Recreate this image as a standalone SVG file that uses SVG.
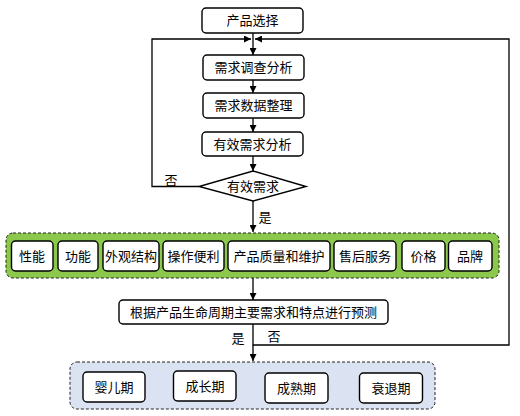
<svg xmlns="http://www.w3.org/2000/svg" width="520" height="416" viewBox="0 0 520 416">
<defs>
<style>
.box{fill:#fff;stroke:#000;stroke-width:1.4}
.grp1{fill:#8cc84b;stroke:#222;stroke-width:1;stroke-dasharray:3,2}
.grp2{fill:#dbe3f2;stroke:#222;stroke-width:1;stroke-dasharray:3,2}
.ln{fill:none;stroke:#000;stroke-width:1.3}
text{font-family:"Liberation Sans","Noto Sans CJK SC",sans-serif;font-size:13px;fill:#000;text-anchor:middle;dominant-baseline:central}
</style>
<marker id="ah" viewBox="0 0 10 10" refX="10" refY="5" markerWidth="7" markerHeight="7" markerUnits="userSpaceOnUse" orient="auto">
<path d="M0,0 L10,5 L0,10 z" fill="#000"/>
</marker>
</defs>
<rect width="520" height="416" fill="#fff"/>

<g id="connectors">
<path class="ln" d="M253,33 V55" marker-end="url(#ah)"/>
<path class="ln" d="M199,186.5 H152 V39 H251" marker-end="url(#ah)"/>
<path class="ln" d="M253,324 V345 H509 V39 H255" marker-end="url(#ah)"/>
<path class="ln" d="M253,80 V93" marker-end="url(#ah)"/>
<path class="ln" d="M253,118 V132" marker-end="url(#ah)"/>
<path class="ln" d="M253,156 V171" marker-end="url(#ah)"/>
<path class="ln" d="M253,201 V232" marker-end="url(#ah)"/>
<path class="ln" d="M253,278 V300" marker-end="url(#ah)"/>
<path class="ln" d="M253,345 V361" marker-end="url(#ah)"/>
<text x="171" y="180">否</text>
<text x="265" y="217">是</text>
<text x="238" y="338">是</text>
<text x="274" y="336">否</text>
</g>

<g id="n_select"><rect class="box" x="202" y="8" width="101" height="25" rx="4"/><text x="252.5" y="20.5">产品选择</text></g>
<g id="n_survey"><rect class="box" x="203" y="55" width="101" height="25" rx="4"/><text x="253.5" y="67.5">需求调查分析</text></g>
<g id="n_data"><rect class="box" x="203" y="93" width="101" height="25" rx="4"/><text x="253.5" y="105.5">需求数据整理</text></g>
<g id="n_valid"><rect class="box" x="202" y="132" width="101" height="24" rx="4"/><text x="252.5" y="144">有效需求分析</text></g>
<g id="n_decision"><polygon class="box" points="253,171 306,186.5 253,201 199,186.5"/><text x="253" y="186.5">有效需求</text></g>

<g id="g_factors">
<rect class="grp1" x="6" y="233" width="493" height="45" rx="7"/>
<g id="f1"><rect class="box" x="11.5" y="241" width="41.5" height="30" rx="4"/><text x="32" y="256">性能</text></g>
<g id="f2"><rect class="box" x="58" y="241" width="40" height="30" rx="4"/><text x="78" y="256">功能</text></g>
<g id="f3"><rect class="box" x="103" y="241" width="56" height="30" rx="4"/><text x="131" y="256">外观结构</text></g>
<g id="f4"><rect class="box" x="163" y="241" width="61" height="30" rx="4"/><text x="193.5" y="256">操作便利</text></g>
<g id="f5"><rect class="box" x="228" y="241" width="102" height="30" rx="4"/><text x="279" y="256">产品质量和维护</text></g>
<g id="f6"><rect class="box" x="334" y="241" width="62" height="30" rx="4"/><text x="365" y="256">售后服务</text></g>
<g id="f7"><rect class="box" x="402" y="241" width="43" height="30" rx="4"/><text x="423.5" y="256">价格</text></g>
<g id="f8"><rect class="box" x="448.5" y="241" width="43.5" height="30" rx="4"/><text x="470" y="256">品牌</text></g>
</g>

<g id="n_predict"><rect class="box" x="119" y="300" width="269" height="24" rx="4"/><text x="253.5" y="312">根据产品生命周期主要需求和特点进行预测</text></g>

<g id="g_stages">
<rect class="grp2" x="70" y="362" width="365" height="47" rx="7"/>
<g id="s1"><rect class="box" x="83" y="372" width="62" height="30" rx="4"/><text x="114" y="387">婴儿期</text></g>
<g id="s2"><rect class="box" x="173.5" y="371" width="62.5" height="30" rx="4"/><text x="205" y="386">成长期</text></g>
<g id="s3"><rect class="box" x="265" y="373" width="63" height="30" rx="4"/><text x="296.5" y="388">成熟期</text></g>
<g id="s4"><rect class="box" x="359.5" y="373" width="63" height="30" rx="4"/><text x="391" y="388">衰退期</text></g>
</g>
</svg>
